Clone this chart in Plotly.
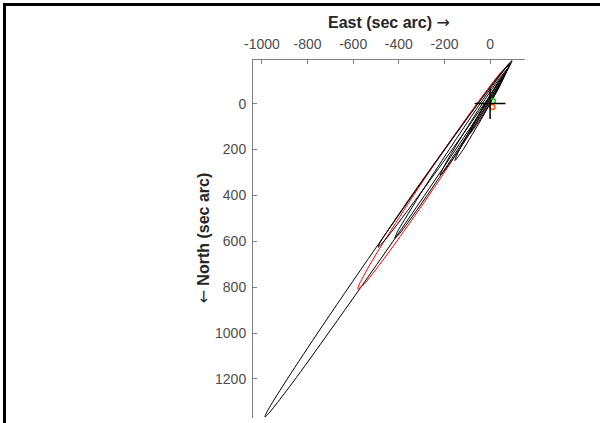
import plotly.graph_objects as go

# ---- data (East, North in sec arc) ----
big_east  = [96, 57, -24, -191, -464, -733, -890, -961, -980, -987, -972, -948, -867, -700, -427, -159, -1, 70, 96]
big_north = [-187, -145, -40, 190, 576, 966, 1202, 1314, 1348, 1365, 1352, 1323, 1218, 988, 602, 212, -24, -136, -187]

red_east  = [80, 52, 0, -105, -273, -434, -527, -567, -577, -579, -568, -551, -499, -394, -226, -65, 28, 68, 80]
red_north = [-165, -141, -77, 65, 306, 552, 702, 775, 796, 809, 800, 785, 721, 579, 338, 92, -58, -131, -165]

l3_east  = [90, 69, 25, -65, -212, -356, -440, -478, -491, -470, -426, -336, -189, -46, 39, 77, 90]
l3_north = [-178, -157, -103, 16, 216, 418, 541, 599, 626, 605, 551, 432, 232, 30, -93, -151, -178]

l4_east  = [85, 65, 27, -52, -179, -303, -375, -407, -417, -397, -359, -280, -153, -29, 43, 75, 85]
l4_north = [-170, -150, -100, 12, 200, 390, 506, 561, 587, 567, 517, 406, 217, 27, -89, -144, -170]

l5_east  = [75, 40, -23, -82, -140, -196, -219, -184, -122, -62, -4, 52, 75]
l5_north = [-150, -108, -17, 75, 168, 263, 313, 271, 180, 88, -5, -100, -150]

l6_east  = [70, 42, -5, -51, -95, -137, -154, -126, -79, -33, 11, 53, 70]
l6_north = [-140, -104, -28, 49, 127, 206, 248, 212, 136, 59, -19, -98, -140]

l7_east  = [60, 33, -21, -71, -88, -61, -7, 43, 60]
l7_north = [-120, -85, 1, 90, 130, 95, 9, -80, -120]

origin_east, origin_north = [0], [0]
green_east, green_north = [12], [-10]
start_east, start_north = [10], [15]

x_ticks = [-1000, -800, -600, -400, -200, 0]
y_ticks = [0, 200, 400, 600, 800, 1000, 1200]
x_labels = ["-1000", "-800", "-600", "-400", "-200", "0"]
y_labels = ["0", "200", "400", "600", "800", "1000", "1200"]
x_range = [-1039, 153]
y_range = [1370, -190]

# ---- layout geometry (pixels) ----
W, H = 600, 423
L, R, T, B = 253, 525, 60, 418

def px(xp):
    return (xp - L) / (R - L)

def py(yp):
    return (B - yp) / (B - T)

fig = go.Figure()

loops = [
    (big_east, big_north, "black"),
    (red_east, red_north, "#ff0000"),
    (l3_east, l3_north, "black"),
    (l4_east, l4_north, "black"),
    (l5_east, l5_north, "black"),
    (l6_east, l6_north, "black"),
    (l7_east, l7_north, "black"),
]
for ex, ny, col in loops:
    fig.add_trace(go.Scatter(x=ex, y=ny, mode="lines",
                             line=dict(color=col, width=1, shape="spline", smoothing=1.0),
                             showlegend=False, hoverinfo="skip"))

fig.add_trace(go.Scatter(x=green_east, y=green_north, mode="markers",
                         marker=dict(symbol="circle-open", size=5, color="#00dd00", line=dict(width=1.5)),
                         showlegend=False))
fig.add_trace(go.Scatter(x=start_east, y=start_north, mode="markers",
                         marker=dict(symbol="circle-open", size=5, color="#ff5500", line=dict(width=1.5)),
                         showlegend=False))
fig.add_trace(go.Scatter(x=origin_east, y=origin_north, mode="markers",
                         marker=dict(symbol="cross-thin", size=22, color="black",
                                     line=dict(width=1.5, color="black")),
                         showlegend=False))

axis_common = dict(showgrid=False, zeroline=False, showline=True, linecolor="#808080",
                   linewidth=1, ticks="inside", ticklen=4, tickcolor="#808080",
                   tickfont=dict(family="Liberation Sans, Arial", size=14, color="#4d4d4d"))

arrow_r = "<span style=\"font-family:DejaVu Sans\">→</span>"
arrow_d = "<span style=\"font-family:DejaVu Sans\">←</span>"

fig.update_layout(
    width=W, height=H,
    margin=dict(l=L, r=W - R, t=T, b=H - B, pad=0),
    paper_bgcolor="white", plot_bgcolor="white",
    xaxis=dict(range=x_range, side="top", tickvals=x_ticks, ticktext=x_labels,
               ticklabelstandoff=4, **axis_common),
    yaxis=dict(range=y_range, tickvals=y_ticks, ticktext=y_labels,
               ticklabelstandoff=3, **axis_common),
    annotations=[
        dict(text="<b>East (sec arc) </b>" + arrow_r, xref="paper", yref="paper",
             x=px(389), y=py(23), xanchor="center", yanchor="middle", showarrow=False,
             font=dict(family="Liberation Sans, Arial", size=16, color="#262626")),
        dict(text=arrow_d + "<b> North (sec arc)</b>", xref="paper", yref="paper",
             x=px(203), y=py(238.5), xanchor="center", yanchor="middle", showarrow=False,
             textangle=-90,
             font=dict(family="Liberation Sans, Arial", size=16, color="#262626")),
    ],
    shapes=[
        dict(type="rect", xref="paper", yref="paper", x0=px(3), x1=px(600), y0=py(6), y1=py(3),
             fillcolor="black", line=dict(width=0), layer="above"),
        dict(type="rect", xref="paper", yref="paper", x0=px(3), x1=px(6), y0=py(423), y1=py(3),
             fillcolor="black", line=dict(width=0), layer="above"),
    ],
)

fig.write_html("out.html")
